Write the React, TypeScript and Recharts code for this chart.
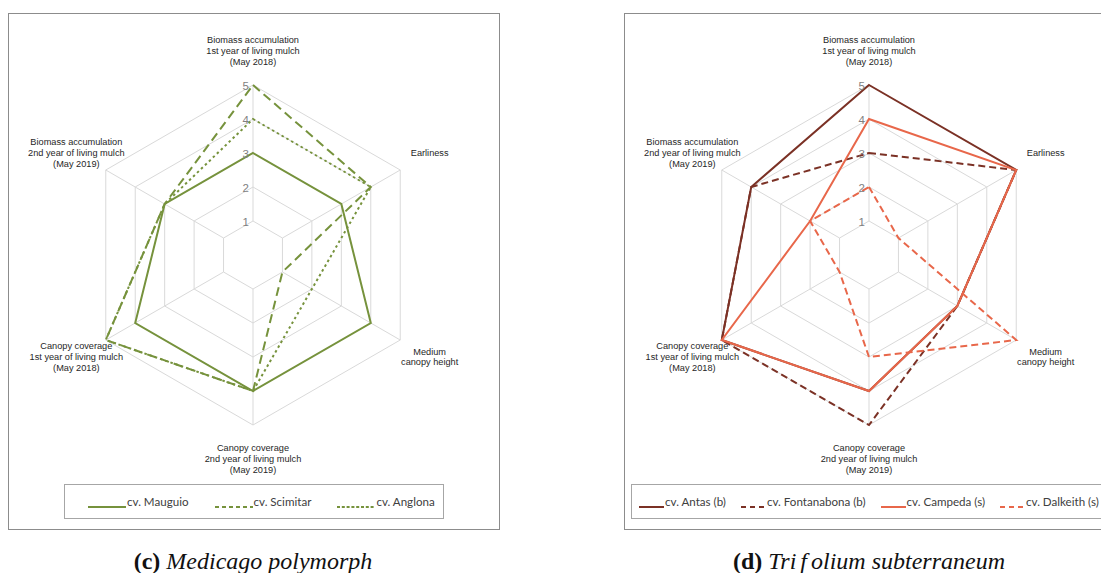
import { PolarAngleAxis, PolarGrid, PolarRadiusAxis, Radar, RadarChart } from "recharts";

// axes, clockwise from the top
const traits = [
  "Biomass accumulation\n1st year of living mulch\n(May 2018)",
  "Earliness",
  "Medium\ncanopy height",
  "Canopy coverage\n2nd year of living mulch\n(May 2019)",
  "Canopy coverage\n1st year of living mulch\n(May 2018)",
  "Biomass accumulation\n2nd year of living mulch\n(May 2019)",
];
const scoreDomain = [1, 5];

// Medicago polymorph cultivars
const mauguio = [3, 3, 4, 4, 4, 3];
const scimitar = [5, 4, 1, 4, 5, 3];
const anglona = [4, 4, 2, 4, 5, 3];

// Trifolium subterraneum cultivars
const antas = [5, 5, 3, 4, 5, 4];
const fontanabona = [3, 5, 3, 5, 5, 4];
const campeda = [4, 5, 3, 4, 5, 2];
const dalkeith = [2, 1, 5, 3, 1, 2];

const CX = 253;
const CY = 255;
const R_OUT = 170;
const LABEL_R = 204;

type Series = {
  key: string;
  name: string;
  values: number[];
  color: string;
  dash?: string;
  legendDash?: string;
};

const medicagoSeries: Series[] = [
  { key: "mauguio", name: "cv. Mauguio", values: mauguio, color: "#76923c" },
  { key: "scimitar", name: "cv. Scimitar", values: scimitar, color: "#76923c", dash: "9 5", legendDash: "4 3" },
  { key: "anglona", name: "cv. Anglona", values: anglona, color: "#76923c", dash: "2.5 3", legendDash: "3 1.8" },
];

const trifoliumSeries: Series[] = [
  { key: "antas", name: "cv. Antas (b)", values: antas, color: "#7b3125" },
  { key: "fontanabona", name: "cv. Fontanabona (b)", values: fontanabona, color: "#7b3125", dash: "7 4", legendDash: "5 4" },
  { key: "campeda", name: "cv. Campeda (s)", values: campeda, color: "#e8674a" },
  { key: "dalkeith", name: "cv. Dalkeith (s)", values: dalkeith, color: "#e8674a", dash: "7 4", legendDash: "5 4" },
];

const TraitTick = (props: any) => {
  const angle = (props.payload.coordinate * Math.PI) / 180;
  const x = CX + LABEL_R * Math.cos(-angle);
  const y = CY + LABEL_R * Math.sin(-angle);
  const lines = String(props.payload.value).split("\n");
  const lh = 10.6;
  const y0 = y - ((lines.length - 1) * lh) / 2;
  return (
    <text
      x={x}
      y={y0}
      textAnchor="middle"
      fontSize={9.2}
      fontFamily="Liberation Sans, Arial, sans-serif"
      fill="#262626"
    >
      {lines.map((line, i) => (
        <tspan key={i} x={x} y={y0 + i * lh} dominantBaseline="central">
          {line}
        </tspan>
      ))}
    </text>
  );
};

const ScoreTick = (props: any) => (
  <text
    x={props.x - 4}
    y={props.y + 1}
    textAnchor="end"
    dominantBaseline="central"
    fontSize={11.5}
    fontFamily="Liberation Sans, Arial, sans-serif"
    fill="#7f7f7f"
  >
    {props.payload.value}
  </text>
);

const Legend = ({
  series,
  left,
  width,
  pad,
  swatch,
  gap,
}: {
  series: Series[];
  left: number;
  width: number;
  pad: number;
  swatch: number;
  gap: number;
}) => (
  <div
    style={{
      position: "absolute",
      left,
      top: 484,
      width,
      height: 35,
      boxSizing: "border-box",
      border: "1px solid #a6a6a6",
      background: "#fff",
      display: "flex",
      alignItems: "center",
      paddingLeft: pad,
      gap,
      whiteSpace: "nowrap",
      fontFamily: "Lato, sans-serif",
      fontSize: 11.6,
      color: "#404040",
    }}
  >
    {series.map((s) => (
      <div key={s.key} style={{ display: "flex", alignItems: "center" }}>
        <svg width={swatch} height={14} style={{ display: "block" }}>
          <line
            x1={0}
            x2={swatch}
            y1={12}
            y2={12}
            stroke={s.color}
            strokeWidth={2}
            strokeDasharray={s.legendDash}
          />
        </svg>
        <span style={{ marginLeft: 1 }}>{s.name}</span>
      </div>
    ))}
  </div>
);

const Panel = ({
  left,
  series,
  legend,
  caption,
}: {
  left: number;
  series: Series[];
  legend: { left: number; width: number; pad: number; swatch: number; gap: number };
  caption: React.ReactNode;
}) => {
  const data = traits.map((trait, i) => {
    const row: Record<string, string | number> = { trait };
    series.forEach((s) => {
      row[s.key] = s.values[i];
    });
    return row;
  });

  return (
    <div style={{ position: "absolute", left, top: 0, width: 560, height: 573 }}>
      <div
        style={{
          position: "absolute",
          left: 8,
          top: 13,
          width: 492,
          height: 517,
          boxSizing: "border-box",
          border: "1px solid #8c8c8c",
        }}
      />
      <div style={{ position: "absolute", left: 0, top: 0 }}>
        <RadarChart
          width={520}
          height={480}
          data={data}
          cx={CX}
          cy={CY}
          innerRadius={R_OUT / 5}
          outerRadius={R_OUT}
          startAngle={90}
          endAngle={-270}
        >
          <PolarGrid stroke="#d9d9d9" strokeWidth={1} />
          <PolarAngleAxis dataKey="trait" tick={TraitTick} tickLine={false} axisLine={false} />
          <PolarRadiusAxis
            angle={90}
            type="number"
            domain={scoreDomain}
            tickCount={5}
            tick={ScoreTick}
            axisLine={false}
            tickLine={false}
          />
          {series.map((s) => (
            <Radar
              key={s.key}
              name={s.name}
              dataKey={s.key}
              stroke={s.color}
              strokeWidth={2}
              strokeDasharray={s.dash}
              fill="none"
              fillOpacity={0}
              dot={false}
              isAnimationActive={false}
            />
          ))}
        </RadarChart>
      </div>
      <Legend series={series} {...legend} />
      <div
        style={{
          position: "absolute",
          left: 0,
          top: 549,
          width: 506,
          textAlign: "center",
          fontFamily: "Liberation Serif, serif",
          fontSize: 24,
          lineHeight: "24px",
          color: "#111",
          whiteSpace: "nowrap",
        }}
      >
        {caption}
      </div>
    </div>
  );
};

export default function App() {
  return (
    <div
      style={{
        position: "absolute",
        left: 0,
        top: 0,
        width: 1101,
        height: 573,
        overflow: "hidden",
        background: "#fff",
      }}
    >
      <Panel
        left={0}
        series={medicagoSeries}
        legend={{ left: 64, width: 380, pad: 23, swatch: 38, gap: 26 }}
        caption={
          <>
            <b>(c)</b> <i>Medicago polymorph</i>
          </>
        }
      />
      <Panel
        left={616}
        series={trifoliumSeries}
        legend={{ left: 15, width: 500, pad: 7, swatch: 25, gap: 15 }}
        caption={
          <>
            <b>(d)</b>{" "}
            <i>
              Tri<span style={{ margin: "0 4px" }}>f</span>olium subterraneum
            </i>
          </>
        }
      />
    </div>
  );
}
